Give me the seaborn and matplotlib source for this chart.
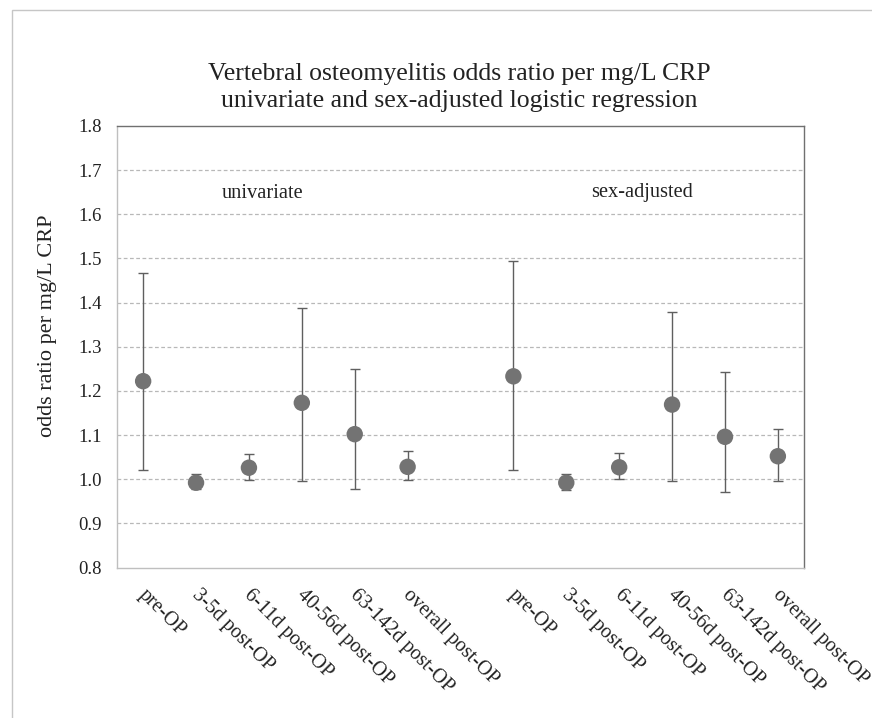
"""Vertebral osteomyelitis odds ratio per mg/L CRP - Nachbau des Excel-Diagramms."""
import matplotlib
matplotlib.use("Agg")
import matplotlib.pyplot as plt
from matplotlib.patches import Rectangle
from matplotlib.transforms import ScaledTranslation
import pandas as pd
import seaborn as sns

# Daten
zeitpunkte = ["pre-OP", "3-5d post-OP", "6-11d post-OP", "40-56d post-OP",
              "63-142d post-OP", "overall post-OP"]
gruppen = ["univariate", "sex-adjusted"]

or_uni = [1.222, 0.992, 1.026, 1.173, 1.102, 1.028]
lo_uni = [1.021, 0.977, 0.999, 0.995, 0.977, 0.998]
hi_uni = [1.467, 1.011, 1.056, 1.387, 1.249, 1.063]

or_adj = [1.233, 0.992, 1.027, 1.169, 1.096, 1.052]
lo_adj = [1.020, 0.975, 1.001, 0.996, 0.971, 0.997]
hi_adj = [1.494, 1.011, 1.059, 1.378, 1.243, 1.114]

# Tabelle bauen: zweite Gruppe nach einer leeren Kategorie
n = len(zeitpunkte)
df = pd.DataFrame({
    "pos": list(range(n)) + list(range(n + 1, 2 * n + 1)),
    "label": zeitpunkte * 2,
    "gruppe": [gruppen[0]] * n + [gruppen[1]] * n,
    "OR": or_uni + or_adj,
    "lo": lo_uni + lo_adj,
    "hi": hi_uni + hi_adj,
})

sns.set_theme(style="white")
plt.rcParams["font.family"] = ["Liberation Serif", "DejaVu Serif"]

fig = plt.figure(figsize=(8.72, 7.18), dpi=100)
ax = fig.add_axes([116.7 / 872, 1 - 567.5 / 718, (804.3 - 116.7) / 872, (567.5 - 126) / 718])

# Rahmen um das gesamte Diagramm
fig.patches.append(Rectangle((12 / 872, -0.1), 1.2, 1 - 10 / 718 + 0.1, transform=fig.transFigure,
                             fill=False, edgecolor="#c6c6c6", linewidth=1.0, zorder=0))

grau = "#737373"
ax.errorbar(df["pos"], df["OR"], yerr=[df["OR"] - df["lo"], df["hi"] - df["OR"]],
            fmt="none", ecolor="#5f5f5f", elinewidth=1.0, capsize=3.5, capthick=1.0, zorder=2)
sns.scatterplot(data=df, x="pos", y="OR", ax=ax, color=grau, s=140, edgecolor="none",
                legend=False, zorder=3)

ax.set_xlim(-0.5, 2 * n + 0.5)
ax.set_ylim(0.8, 1.8)
ax.set_yticks([0.8 + 0.1 * i for i in range(11)])
ax.set_yticklabels([f"{0.8 + 0.1 * i:.1f}" for i in range(11)], fontsize=13.5)

for yv in [0.9 + 0.1 * i for i in range(9)]:
    ax.axhline(yv, color="#b8b8b8", linewidth=0.9, linestyle=(0, (3, 2)), zorder=1)

# Tickmarken an den Kategoriegrenzen, Beschriftungen in der Mitte
ax.set_xticks([i - 0.5 for i in range(2 * n + 2)], minor=True)
ax.set_xticks(df["pos"], df["label"], rotation=-45, ha="left", rotation_mode="anchor", fontsize=14.5)
ax.tick_params(axis="x", which="major", length=0, pad=13)
ax.tick_params(axis="x", which="minor", length=6, color="#bfbfbf", width=1, direction="out")
ax.tick_params(axis="y", length=6, color="#bfbfbf", width=1, direction="out", pad=5)
verschiebung = ScaledTranslation(5 / 100, 0, fig.dpi_scale_trans)
for lab in ax.get_xticklabels():
    lab.set_color("#222222")
    lab.set_transform(lab.get_transform() + verschiebung)
for lab in ax.get_yticklabels():
    lab.set_color("#222222")

ax.spines["left"].set_color("#bfbfbf")
ax.spines["bottom"].set_color("#bfbfbf")
ax.spines["top"].set_color("#707070")
ax.spines["right"].set_color("#707070")
for s in ax.spines.values():
    s.set_linewidth(1.0)
    s.set_visible(True)

ax.set_xlabel("")
ax.set_ylabel("odds ratio per mg/L CRP", fontsize=16, color="#222222", va="center")
ax.yaxis.set_label_coords(-0.1, 0.547)

ax.text(2.25, 1.648, "univariate", ha="center", va="center", fontsize=14.7, color="#222222")
ax.text(9.44, 1.65, "sex-adjusted", ha="center", va="center", fontsize=14.7, color="#222222")

fig.text(0.527, 1 - 74 / 718, "Vertebral osteomyelitis odds ratio per mg/L CRP",
         ha="center", va="center", fontsize=18.5, color="#222222")
fig.text(0.527, 1 - 101 / 718, "univariate and sex-adjusted logistic regression",
         ha="center", va="center", fontsize=18.5, color="#222222")

fig.savefig("out.png", dpi=100)
